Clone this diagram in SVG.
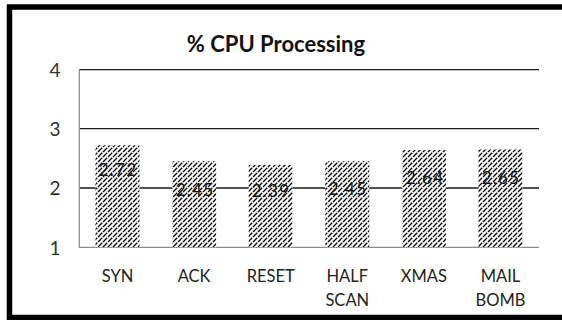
<svg xmlns="http://www.w3.org/2000/svg" width="562" height="320" viewBox="0 0 562 320">
  <defs>
    <!-- diagonal "/" hatch used for the bars -->
    <pattern id="hatch" patternUnits="userSpaceOnUse" width="5" height="5">
      <rect width="5" height="5" fill="#fff"/>
      <path d="M0,5 L5,0 M-1,1 L1,-1 M4,6 L6,4" stroke="#000" stroke-width="1.25" stroke-dasharray="3.2 1"/>
    </pattern>
  </defs>
  <style>
    .grid { stroke: #1a1a1a; stroke-width: 1.3; }
    .axis { stroke: #8a8a8a; stroke-width: 1.2; fill: none; }
    .bar { fill: url(#hatch); stroke: none; }
    .title { font-family: Lato, "Open Sans", sans-serif; font-weight: bold; font-size: 22px; fill: #111; text-anchor: middle; }
    .tick { font-family: Lato, "Open Sans", sans-serif; font-size: 19px; fill: #333; text-anchor: middle; }
    .cat { font-family: Lato, "Open Sans", sans-serif; font-size: 16.5px; fill: #222; text-anchor: middle; }
    .val { font-family: Lato, "Open Sans", sans-serif; font-size: 17px; fill: #111; text-anchor: middle; letter-spacing: 1.2px; }
  </style>

  <rect width="562" height="320" fill="#fff"/>

  <!-- frame (open on the right) -->
  <path d="M 570 7 H 9.5 V 317.5 H 570" fill="none" stroke="#000" stroke-width="5.5"/>

  <text class="title" x="276" y="52">% CPU Processing</text>

  <!-- value axis -->
  <g id="gridlines">
    <line class="grid" x1="79.3" y1="69.7" x2="539" y2="69.7"/>
    <line class="grid" x1="79.3" y1="128.6" x2="539" y2="128.6"/>
    <line class="grid" x1="79.3" y1="188" x2="539" y2="188"/>
    <path class="axis" d="M 79.3 69.7 V 247.3 H 539"/>
  </g>
  <g id="ticks">
    <text class="tick" x="55" y="76.5">4</text>
    <text class="tick" x="55" y="135.5">3</text>
    <text class="tick" x="55" y="195">2</text>
    <text class="tick" x="55" y="254.5">1</text>
  </g>

  <!-- bars -->
  <g id="bar-syn">
    <rect class="bar" x="95.5" y="145.3" width="44" height="102"/>
    <text class="val" x="118" y="176">2.72</text>
    <text class="cat" x="117.5" y="282">SYN</text>
  </g>
  <g id="bar-ack">
    <rect class="bar" x="172.1" y="161.3" width="44" height="86"/>
    <text class="val" x="195" y="195.5">2.45</text>
    <text class="cat" x="194.1" y="282">ACK</text>
  </g>
  <g id="bar-reset">
    <rect class="bar" x="248.7" y="164.9" width="44" height="82.4"/>
    <text class="val" x="271" y="197">2.39</text>
    <text class="cat" x="270.7" y="282">RESET</text>
  </g>
  <g id="bar-halfscan">
    <rect class="bar" x="325.3" y="161.3" width="44" height="86"/>
    <text class="val" x="348" y="194.5">2.45</text>
    <text class="cat" x="347.3" y="282">HALF</text>
    <text class="cat" x="347.3" y="306">SCAN</text>
  </g>
  <g id="bar-xmas">
    <rect class="bar" x="401.9" y="150.1" width="44" height="97.2"/>
    <text class="val" x="425" y="183.5">2.64</text>
    <text class="cat" x="423.9" y="282">XMAS</text>
  </g>
  <g id="bar-mailbomb">
    <rect class="bar" x="478.5" y="149.5" width="44" height="97.8"/>
    <text class="val" x="501" y="183.5">2.65</text>
    <text class="cat" x="500.5" y="282">MAIL</text>
    <text class="cat" x="500.5" y="306">BOMB</text>
  </g>
</svg>
